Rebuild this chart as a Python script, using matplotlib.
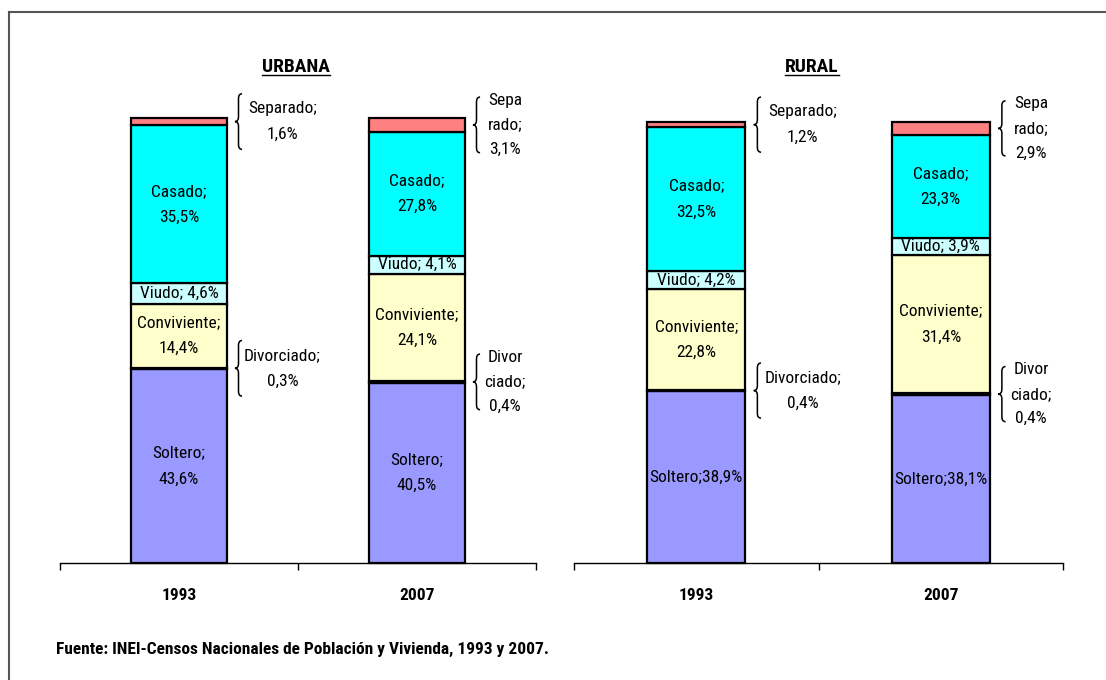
import matplotlib
matplotlib.use('Agg')
import matplotlib.pyplot as plt
from matplotlib import font_manager as fm
from matplotlib.path import Path
from matplotlib.patches import PathPatch
from matplotlib.lines import Line2D

# narrow font like the original (Arial Narrow), first one that is present
available = set(f.name for f in fm.fontManager.ttflist)
candidates = ['Liberation Sans Narrow', 'Arial Narrow', 'Roboto Condensed',
              'Archivo Narrow', 'PT Sans Narrow', 'Sofia Sans Condensed',
              'Liberation Sans']
font = next(c for c in candidates if c in available)
plt.rcParams['font.family'] = [font, 'DejaVu Sans']

# Data (percent)
years = ['1993', '2007']
categories = ['Soltero', 'Divorciado', 'Conviviente', 'Viudo', 'Casado', 'Separado']

urbana_soltero = [43.6, 40.5]
urbana_divorciado = [0.3, 0.4]
urbana_conviviente = [14.4, 24.1]
urbana_viudo = [4.6, 4.1]
urbana_casado = [35.5, 27.8]
urbana_separado = [1.6, 3.1]

rural_soltero = [38.9, 38.1]
rural_divorciado = [0.4, 0.4]
rural_conviviente = [22.8, 31.4]
rural_viudo = [4.2, 3.9]
rural_casado = [32.5, 23.3]
rural_separado = [1.2, 2.9]

colors = ['#9999FF', '#000000', '#FFFFCC', '#CCFFFF', '#00FFFF', '#FF8080']

W, H = 1106, 680
fig = plt.figure(figsize=(W / 100, H / 100), dpi=100)
fs = 12.5


def px_rect(x0, y_top, x1, y_bot):
    return [x0 / W, 1 - y_bot / H, (x1 - x0) / W, (y_bot - y_top) / H]


def pct(v):
    return f'{v:.1f}%'.replace('.', ',')


def brace(ax, x, yc, h, w, c):
    # curly brace "{" with tip pointing left at (x, yc)
    y0, y1 = yc - h / 2, yc + h / 2
    xm = x + w / 2
    verts = [(x + w, y1), (xm, y1), (xm, y1 - c), (xm, yc + c),
             (xm, yc), (x, yc), (xm, yc), (xm, yc - c),
             (xm, y0 + c), (xm, y0), (x + w, y0)]
    codes = [Path.MOVETO, Path.CURVE3, Path.CURVE3, Path.LINETO,
             Path.CURVE3, Path.CURVE3, Path.CURVE3, Path.CURVE3,
             Path.LINETO, Path.CURVE3, Path.CURVE3]
    ax.add_patch(PathPatch(Path(verts, codes), fill=False, lw=1.1,
                           edgecolor='black', clip_on=False))


def inside_label(name, v, panel):
    if name == 'Viudo':
        return f'{name}; {pct(v)}'
    if name == 'Soltero' and panel == 'RURAL':
        return f'{name};{pct(v)}'
    return f'{name};\n{pct(v)}'


def outside_label(name, v, i):
    if i == 0:
        return f'{name};\n{pct(v)}'
    split = {'Separado': 'Sepa\nrado', 'Divorciado': 'Divor\nciado'}
    return f'{split[name]};\n{pct(v)}'


def draw_panel(ax, title, series):
    x = [0, 1]
    bottom = [0, 0]
    for name, vals, col in zip(categories, series, colors):
        ax.bar(x, vals, 0.4, bottom=bottom, color=col, edgecolor='black',
               linewidth=1.6, clip_on=False, zorder=2)
        for i in x:
            yc = bottom[i] + vals[i] / 2
            if name in ('Divorciado', 'Separado'):
                brace(ax, i + 0.235, yc, 12.5, 0.03, 1.1)
                dx = 0.435 if i == 0 else 0.37
                lab = outside_label(name, vals[i], i)
                ax.text(i + dx, yc, lab, ha='center', va='center',
                        fontsize=fs, linespacing=1.9 if i == 0 else 1.8)
            else:
                ax.text(i, yc, inside_label(name, vals[i], title),
                        ha='center', va='center', fontsize=fs,
                        linespacing=1.9, zorder=3)
        bottom = [b + v for b, v in zip(bottom, vals)]

    ax.set_xlim(-0.5, 1.5)
    ax.set_ylim(0, 100)
    for s in ['top', 'right', 'left']:
        ax.spines[s].set_visible(False)
    ax.spines['bottom'].set_linewidth(1.0)
    ax.set_yticks([])
    ax.set_xticks(x)
    ax.set_xticklabels(years, fontweight='bold', fontsize=12.5)
    ax.tick_params(axis='x', which='major', length=0, pad=18)
    ax.set_xticks([-0.5, 0.5, 1.5], minor=True)
    ax.tick_params(axis='x', which='minor', length=5, width=1.0,
                   direction='out')


ax1 = fig.add_axes(px_rect(60, 118, 536, 563))
ax2 = fig.add_axes(px_rect(574, 122, 1063, 563))

draw_panel(ax1, 'URBANA', [urbana_soltero, urbana_divorciado, urbana_conviviente,
                           urbana_viudo, urbana_casado, urbana_separado])
draw_panel(ax2, 'RURAL', [rural_soltero, rural_divorciado, rural_conviviente,
                          rural_viudo, rural_casado, rural_separado])

t1 = fig.text(296 / W, 1 - 67 / H, 'URBANA', ha='center', va='center',
              fontsize=14, fontweight='bold')
t2 = fig.text(812 / W, 1 - 67 / H, 'RURAL', ha='center', va='center',
              fontsize=14, fontweight='bold')

fig.text(56 / W, 1 - 649 / H,
         'Fuente: INEI-Censos Nacionales de Población y Vivienda, 1993 y 2007.',
         ha='left', va='center', fontsize=12.5, fontweight='bold')

# outer frame (top and left edges visible)
fig.add_artist(Line2D([9 / W, 1.0], [1 - 12 / H, 1 - 12 / H],
                      transform=fig.transFigure, color='#555555', lw=1.5))
fig.add_artist(Line2D([9 / W, 9 / W], [0.0, 1 - 12 / H],
                      transform=fig.transFigure, color='#555555', lw=1.5))

# underline the titles
fig.canvas.draw()
r = fig.canvas.get_renderer()
for t in (t1, t2):
    bb = t.get_window_extent(r)
    fig.add_artist(Line2D([bb.x0 / W, bb.x1 / W],
                          [(bb.y0 + 1) / H, (bb.y0 + 1) / H],
                          transform=fig.transFigure, color='black', lw=1.0))

fig.savefig('out.png', dpi=100)
